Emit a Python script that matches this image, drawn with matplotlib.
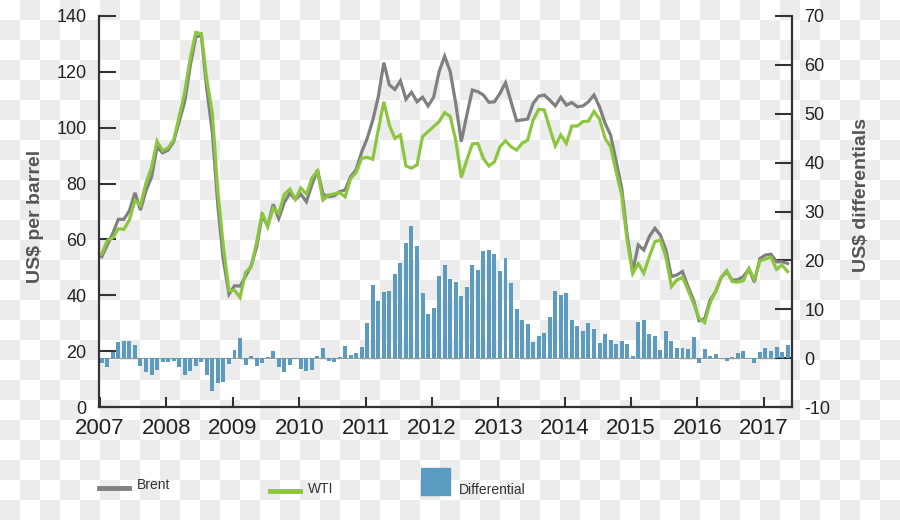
import numpy as np
import matplotlib
matplotlib.use("Agg")
import matplotlib.pyplot as plt
from matplotlib.lines import Line2D
from matplotlib.patches import Rectangle
from matplotlib.colors import ListedColormap

plt.rcParams['font.family'] = ['Liberation Sans', 'DejaVu Sans']
plt.rcParams['axes.unicode_minus'] = False

# ---------------- data (monthly, Jan 2007 - May 2017) ----------------
years = ['2007', '2008', '2009', '2010', '2011', '2012',
         '2013', '2014', '2015', '2016', '2017']

brent = [
    53.8, 58.0, 62.2, 67.2, 67.2, 70.3, 76.7, 70.5, 77.5, 82.3, 93.0, 91.0,        # 2007
    92.0, 95.0, 102.2, 109.3, 122.2, 132.5, 133.0, 113.7, 98.2, 71.8, 52.4, 40.4,  # 2008
    43.4, 43.3, 46.8, 50.5, 57.2, 68.6, 64.8, 72.6, 67.5, 73.2, 76.6, 74.3,        # 2009
    76.2, 73.5, 79.6, 84.9, 76.2, 75.3, 75.6, 77.1, 77.7, 82.5, 85.0, 91.3,        # 2010
    96.2, 102.7, 111.1, 123.3, 115.3, 113.7, 116.8, 110.2, 112.7, 109.3, 110.9, 107.8,  # 2011
    110.9, 120.1, 125.6, 120.1, 108.7, 95.0, 104.5, 113.5, 112.9, 111.7, 109.1, 109.3,  # 2012
    112.3, 116.1, 109.3, 102.5, 102.8, 103.1, 108.7, 111.3, 111.7, 109.9, 107.8, 110.9,  # 2013
    108.1, 109.0, 107.5, 107.8, 109.3, 111.7, 107.5, 101.6, 97.4, 88.0, 78.5, 61.5,     # 2014
    48.5, 58.0, 56.2, 61.0, 64.0, 61.6, 56.2, 46.7, 47.3, 48.5, 43.1, 38.3,        # 2015
    30.9, 31.6, 38.3, 41.3, 46.4, 48.5, 45.4, 45.6, 46.7, 49.4, 44.7, 53.2,        # 2016
    54.4, 54.7, 52.0, 52.0, 51.4,                                                  # 2017
]

wti = [
    54.8, 59.6, 60.6, 63.8, 63.6, 67.0, 74.0, 72.2, 80.3, 85.8, 95.2, 91.8,
    92.8, 95.6, 104.0, 112.8, 124.9, 134.1, 133.7, 117.1, 105.0, 76.8, 57.2, 41.6,
    41.8, 39.2, 48.2, 50.1, 58.9, 69.6, 64.6, 71.2, 69.3, 76.1, 78.0, 74.4,
    78.4, 76.2, 82.0, 84.5, 74.1, 75.9, 76.3, 76.8, 75.2, 81.8, 84.0, 89.1,
    89.4, 88.7, 99.2, 109.3, 100.9, 96.2, 97.4, 86.3, 85.5, 86.7, 96.8, 98.6,
    100.4, 102.2, 105.4, 104.0, 95.6, 82.2, 88.4, 94.2, 94.4, 89.0, 86.3, 87.8,
    93.2, 95.3, 93.2, 92.0, 94.4, 95.6, 102.8, 106.6, 106.4, 99.8, 93.5, 97.4,
    94.4, 100.6, 100.6, 102.2, 102.4, 105.8, 103.1, 96.2, 93.2, 84.2, 76.0, 59.5,
    47.8, 51.4, 47.9, 53.8, 59.2, 59.8, 53.8, 43.1, 45.5, 46.4, 41.9, 37.1,
    31.8, 30.2, 37.3, 41.6, 46.4, 48.8, 44.9, 44.7, 45.2, 49.6, 45.6, 52.3,
    53.0, 53.6, 49.3, 50.8, 48.5,
]

differential = [
    -1.0, -1.8, 1.5, 3.4, 3.6, 3.5, 2.7, -1.6, -2.8, -3.5, -2.4, -0.8,
    -0.8, -0.5, -1.8, -3.5, -2.7, -1.6, -0.7, -3.4, -6.8, -5.0, -4.8, -1.2,
    1.6, 4.1, -1.4, 0.4, -1.7, -1.0, 0.2, 1.4, -1.8, -2.9, -1.4, -0.1,
    -2.2, -2.7, -2.4, 0.4, 2.1, -0.6, -0.75, 0.3, 2.5, 0.7, 1.0, 2.2,
    7.2, 14.9, 11.6, 13.6, 13.8, 17.3, 19.4, 23.6, 27.0, 23.0, 13.4, 9.1,
    10.2, 16.9, 19.1, 16.2, 15.5, 12.7, 14.5, 19.0, 18.1, 21.9, 22.2, 21.3,
    17.9, 20.4, 15.3, 10.1, 7.9, 6.9, 3.2, 4.6, 5.1, 8.4, 13.7, 12.9,
    13.3, 7.9, 6.5, 5.6, 7.2, 5.9, 3.1, 4.9, 3.8, 2.9, 3.5, 2.9,
    0.5, 7.4, 7.9, 4.9, 4.6, 1.6, 5.5, 3.5, 2.1, 2.1, 1.8, 4.3,
    -1.0, 1.8, 0.5, 0.75, 0.05, -0.5, 0.2, 1.0, 1.4, -0.1, -1.0, 1.2,
    2.0, 1.4, 2.2, 1.2, 2.7,
]

left_ticks = [0, 20, 40, 60, 80, 100, 120, 140]
right_ticks = [-10, 0, 10, 20, 30, 40, 50, 60, 70]

# ---------------- styling ----------------
C_BRENT = '#808080'
C_WTI = '#8cc63f'
C_BAR = '#5b9bc0'
C_AXIS = '#333333'
C_TEXT = '#222222'

W, H = 900, 520
fig = plt.figure(figsize=(9, 5.2), dpi=100)

# checkerboard backdrop
bg = fig.add_axes([0, 0, 1, 1], zorder=-10)
checker = np.add.outer(np.arange(H // 20), np.arange(W // 20)) % 2
bg.imshow(checker, cmap=ListedColormap(['#ffffff', '#ececec']),
          interpolation='nearest', aspect='auto', extent=[0, W, H, 0])
bg.set_xlim(0, W)
bg.set_ylim(H, 0)
bg.axis('off')

ax = fig.add_axes([99 / W, (H - 407) / H, (792 - 99) / W, (407 - 16) / H])
ax2 = ax.twinx()
ax.set_zorder(2)
ax2.set_zorder(1)
ax.patch.set_visible(False)
ax2.patch.set_visible(False)

x = np.arange(len(brent))

ax2.axhline(0, color='#9a9a9a', lw=0.8, zorder=1)
ax2.bar(x, differential, width=0.72, color=C_BAR, zorder=2)

ax.plot(x, brent, color=C_BRENT, lw=2.3, solid_joinstyle='miter')
ax.plot(x, wti, color=C_WTI, lw=2.3, solid_joinstyle='miter')

ax.set_xlim(-0.5, 124.8)
ax.set_ylim(0, 140)
ax2.set_ylim(-10, 70)
ax.set_yticks(left_ticks)
ax2.set_yticks(right_ticks)
ax.set_xticks([12 * k - 0.3 for k in range(len(years))])
ax.set_xticklabels(years)

for s in ['top', 'right']:
    ax.spines[s].set_visible(False)
for s in ['top', 'left', 'bottom']:
    ax2.spines[s].set_visible(False)
for sp in [ax.spines['left'], ax.spines['bottom'], ax2.spines['right']]:
    sp.set_color(C_AXIS)
    sp.set_linewidth(1.6)

ax.tick_params(axis='y', direction='in', length=12.5, width=1.5, color=C_AXIS,
               labelsize=13, pad=9, labelcolor=C_TEXT)
ax.tick_params(axis='x', direction='in', length=7, width=1.5, color=C_AXIS,
               labelsize=16, pad=8, labelcolor=C_TEXT)
ax2.tick_params(axis='y', direction='in', length=12.5, width=1.5, color=C_AXIS,
                labelsize=13, pad=9, labelcolor=C_TEXT)

fig.text(35 / W, 1 - 216 / H, 'US$ per barrel', rotation=90, fontsize=14,
         fontweight='bold', color='#555555', ha='center', va='center')
fig.text(862 / W, 1 - 195 / H, 'US$ differentials', rotation=90, fontsize=14,
         fontweight='bold', color='#555555', ha='center', va='center')

# legend
fig.add_artist(Line2D([99 / W, 129 / W], [1 - 488 / H] * 2, color=C_BRENT, lw=3.5,
                      transform=fig.transFigure))
fig.text(137 / W, 1 - 485 / H, 'Brent', fontsize=10, color='#333333',
         ha='left', va='center')
fig.add_artist(Line2D([270 / W, 300 / W], [1 - 491 / H] * 2, color=C_WTI, lw=3.5,
                      transform=fig.transFigure))
fig.text(308 / W, 1 - 489 / H, 'WTI', fontsize=10, color='#333333',
         ha='left', va='center')
fig.add_artist(Rectangle((421 / W, 1 - 495 / H), 29 / W, 27 / H, color=C_BAR,
                         transform=fig.transFigure))
fig.text(459 / W, 1 - 490 / H, 'Differential', fontsize=10, color='#333333',
         ha='left', va='center')

fig.savefig('out.png', dpi=100)
